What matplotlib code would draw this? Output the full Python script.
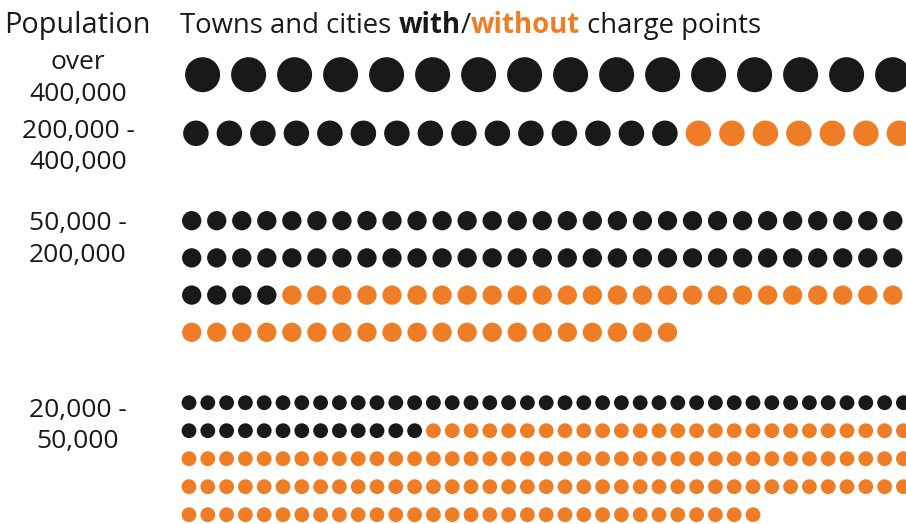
import matplotlib
matplotlib.use("Agg")
import matplotlib.pyplot as plt
from matplotlib.patches import Circle

# ---- data ----
categories = ["over\n400,000", "200,000 -\n400,000", "50,000 -\n200,000", "20,000 -\n50,000"]
with_cp = [16, 15, 62, 52]
without_cp = [0, 7, 45, 135]

# ---- style / layout ----
BLACK = "#1a1918"
ORANGE = "#ee7d25"
FONT = "Open Sans"
layout = [
    dict(x0=202.6, y0=74.7, dx=46.0, dy=0.0, d=35.0, cap=16, ly=78.5),
    dict(x0=195.9, y0=133.3, dx=33.5, dy=0.0, d=25.5, cap=22, ly=147.0),
    dict(x0=191.7, y0=220.7, dx=25.04, dy=37.2, d=19.3, cap=29, ly=239.5),
    dict(x0=189.0, y0=402.7, dx=18.8, dy=28.0, d=14.8, cap=39, ly=426.0),
]

W, H = 906, 524
fig = plt.figure(figsize=(W / 100, H / 100), dpi=100)
ax = fig.add_axes([0, 0, 1, 1])
ax.set_xlim(0, W)
ax.set_ylim(H, 0)
ax.axis("off")

for cat, nw, nwo, L in zip(categories, with_cp, without_cp, layout):
    colors = [BLACK] * nw + [ORANGE] * nwo
    for i, c in enumerate(colors):
        r, k = divmod(i, L["cap"])
        ax.add_patch(Circle((L["x0"] + k * L["dx"], L["y0"] + r * L["dy"]),
                            L["d"] / 2, facecolor=c, edgecolor="none"))
    ax.text(78, L["ly"], cat, ha="center", va="center", fontsize=19,
            family=FONT, color=BLACK, linespacing=1.32)

ax.text(77, 33, "Population", ha="center", va="baseline", fontsize=20.8,
        family=FONT, color=BLACK)

# title pieces
pieces = [("Towns and cities ", "normal", BLACK),
          ("with", "bold", BLACK),
          ("/", "normal", BLACK),
          ("without", "bold", ORANGE),
          (" charge points", "normal", BLACK)]
fig.canvas.draw()
renderer = fig.canvas.get_renderer()
x = 180.0
inv = ax.transData.inverted()
for s, w, c in pieces:
    t = ax.text(x, 33, s, ha="left", va="baseline", fontsize=19.8,
                family=FONT, fontweight=w, color=c)
    bb = t.get_window_extent(renderer=renderer)
    x = inv.transform((bb.x1, bb.y0))[0]

fig.savefig("out.png", dpi=100)
